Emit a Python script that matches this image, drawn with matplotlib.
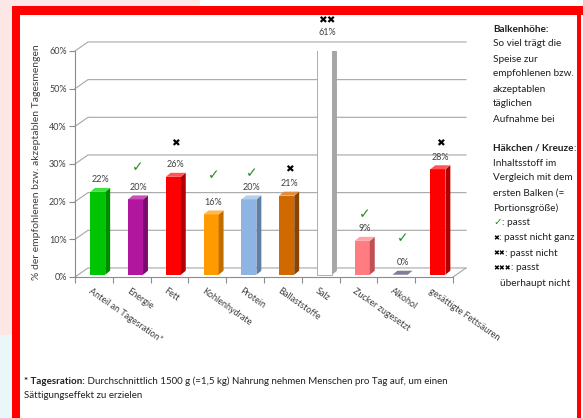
import numpy as np
import matplotlib
matplotlib.use("Agg")
import matplotlib.pyplot as plt
from matplotlib.patches import Rectangle, Polygon

# Nährstoffanteile der Speise (% der empfohlenen bzw. akzeptablen Tagesmenge)
categories = ["Anteil an Tagesration*", "Energie", "Fett", "Kohlenhydrate", "Protein",
              "Ballaststoffe", "Salz", "Zucker zugesetzt", "Alkohol", "gesättigte Fettsäuren"]
values = [22, 20, 26, 16, 20, 21, 61, 9, 0, 28]
marks = ["", "✓", "✖", "✓", "✓", "✖", "✖✖", "✓", "✓", "✖"]
yticks = [0, 10, 20, 30, 40, 50, 60]

# front, side, top colour of every bar
bar_colors = [("#00c400", "#008a00", "#45de45"),
              ("#b0169e", "#7a0a6d", "#c850b8"),
              ("#ff0000", "#b00000", "#ff5555"),
              ("#ff9a00", "#c06d00", "#ffb84d"),
              ("#8db4e2", "#5e7ea8", "#b3cff0"),
              ("#d06a00", "#8a4400", "#e08c3a"),
              ("#ffffff", "#a6a6a6", "#e4e4e4"),
              ("#ff7c80", "#c05055", "#ffa5a8"),
              ("#7d7d9e", "#5d5d7e", "#7d7d9e"),
              ("#ff0000", "#b00000", "#ff5555")]
mark_gap = [0, 20, 22, 27, 14, 14, 13, 15, 25, 14]  # px between value label and mark

W, H = 583, 418
fig = plt.figure(figsize=(W / 100, H / 100), dpi=100)
fig.patch.set_facecolor("white")

def fbox(x, y, w, h, color):
    fig.add_artist(Rectangle((x / W, 1 - (y + h) / H), w / W, h / H, transform=fig.transFigure,
                             facecolor=color, edgecolor="none", zorder=0))

# page background and red frame
fbox(0, 0, 12, 335, "#fce6e6")
fbox(0, 335, 12, 83, "#e9f7fa")
fbox(0, 0, 200, 6, "#fce6e6")
fbox(12, 6, 571, 9, "#ff0000")
fbox(12, 6, 8, 412, "#ff0000")
fbox(577, 6, 4, 412, "#ff0000")

ax = fig.add_axes([75 / W, 1 - 277 / H, 378 / W, 226 / H])
ax.set_xlim(0, 10)
ax.set_ylim(0, 60)
ax.patch.set_alpha(0)
for s in ["top", "right"]:
    ax.spines[s].set_visible(False)
for s in ["left", "bottom"]:
    ax.spines[s].set_color("#8c8c8c")
    ax.spines[s].set_linewidth(0.8)

gray = "#404040"
ax.set_yticks(yticks)
ax.set_yticklabels([f"{v}%" for v in yticks], fontsize=6.5, color=gray, family="Lato")
ax.set_xticks(np.arange(0, 11))
ax.set_xticklabels([])
ax.tick_params(axis="both", length=4, width=0.8, color="#8c8c8c", direction="out")
ax.tick_params(axis="y", pad=2)

# back wall / side wall gridlines
dx, dy = 0.344, 2.4
for v in yticks:
    ax.plot([0, dx, 10 + dx], [v, v + dy, v + dy], color="#a6a6a6", lw=0.8, zorder=1, clip_on=False)
ax.plot([10, 10 + dx], [0, dy], color="#a6a6a6", lw=0.8, zorder=1, clip_on=False)

# pseudo 3D bars
base, w, sx, sy = 0.6, 0.4, 0.13, 1.06
for i, (v, (cf, cs, ct)) in enumerate(zip(values, bar_colors)):
    x0 = i + 0.4
    top = base + v
    edge = "#a0a0a0" if cf == "#ffffff" else "none"
    if v > 0:
        ax.add_patch(Rectangle((x0, base), w, v, facecolor=cf, edgecolor=edge, lw=0.6, zorder=3))
        ax.add_patch(Polygon([(x0 + w, base), (x0 + w + sx, base + sy), (x0 + w + sx, top + sy), (x0 + w, top)],
                             facecolor=cs, edgecolor="none", zorder=3))
    ax.add_patch(Polygon([(x0, top), (x0 + w, top), (x0 + w + sx, top + sy), (x0 + sx, top + sy)],
                         facecolor=ct, edgecolor=edge, lw=0.6, zorder=3))
    xc = x0 + (w + sx) / 2
    ax.annotate(f"{v}%", (xc, top + sy), xytext=(0, 8 * 0.72), textcoords="offset points",
                ha="center", va="center", fontsize=6.5, color=gray, family="Lato",
                annotation_clip=False)
    if marks[i]:
        tick = marks[i] == "✓"
        ax.annotate(marks[i], (xc, top + sy), xytext=(0, (8 + mark_gap[i]) * 0.72),
                    textcoords="offset points", ha="center", va="center",
                    fontsize=10 if tick else 7.5, fontweight="bold",
                    color="#2a8a2a" if tick else "black", family="DejaVu Sans",
                    annotation_clip=False)

for i, name in enumerate(categories):
    ax.text(i + 0.45, -2.5, name, rotation=-35, rotation_mode="anchor", ha="left", va="top",
            fontsize=6.5, color=gray, family="Lato")

fig.text(37 / W, 1 - 162 / H, "% der empfohlenen bzw. akzeptablen Tagesmengen", rotation=90,
         ha="center", va="center", fontsize=7.5, color=gray, family="Lato")

renderer = fig.canvas.get_renderer()

def run_text(x, y, parts):
    for s, kw in parts:
        t = fig.text(x / W, 1 - y / H, s, ha="left", va="center", family=["Lato", "DejaVu Sans"], **kw)
        x = t.get_window_extent(renderer).x1

# explanation block on the right
txt = dict(fontsize=7.2, color="#202020")
info = ["So viel trägt die", "Speise zur", "empfohlenen bzw.", "akzeptablen", "täglichen", "Aufnahme bei"]
run_text(493, 29, [("Balkenhöhe:", dict(txt, fontweight="bold"))])
for k, line in enumerate(info):
    run_text(493, 44 + 15 * k, [(line, txt)])
run_text(493, 148, [("Häkchen / Kreuze", dict(txt, fontweight="bold")), (":", txt)])
info2 = ["Inhaltsstoff im", "Vergleich mit dem", "ersten Balken (=", "Portionsgröße)"]
for k, line in enumerate(info2):
    run_text(493, 163 + 15 * k, [(line, txt)])
small = dict(fontsize=5, color="black", fontweight="bold")
run_text(493, 223, [("✓", dict(fontsize=7.5, color="#2a8a2a")), (": passt", txt)])
run_text(493, 238, [("✖", small), (": passt nicht ganz", txt)])
run_text(493, 253, [("✖✖", small), (": passt nicht", txt)])
run_text(493, 268, [("✖✖✖", small), (": passt", txt)])
run_text(500, 283, [("überhaupt nicht", txt)])

# footnote
foot = dict(fontsize=7, color="#202020")
run_text(24, 381, [("* Tagesration:", dict(foot, fontweight="bold")),
                   (" Durchschnittlich 1500 g (=1,5 kg) Nahrung nehmen Menschen pro Tag auf, um einen", foot)])
run_text(24, 396, [("Sättigungseffekt zu erzielen", foot)])

fig.savefig("out.png", dpi=100)
